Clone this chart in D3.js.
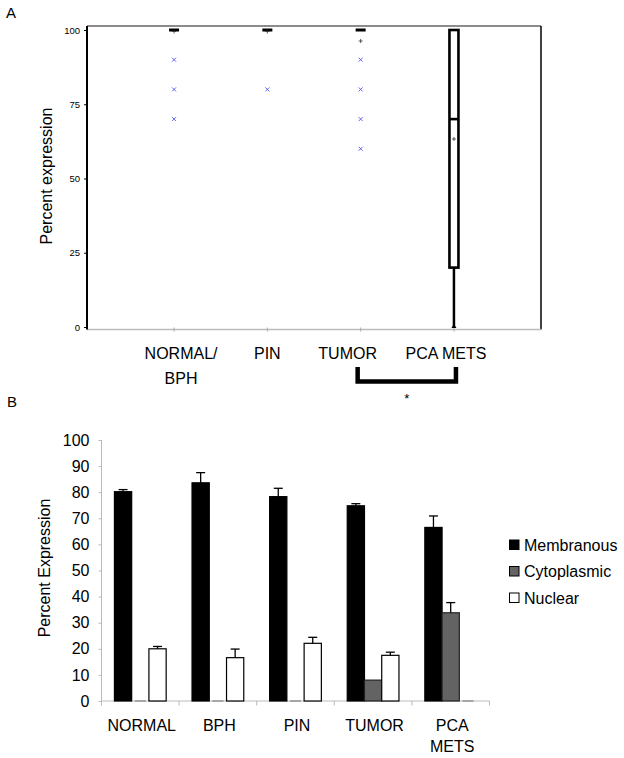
<!DOCTYPE html>
<html>
<head>
<meta charset="utf-8">
<script src="https://cdn.jsdelivr.net/npm/d3@7"></script>
<style>
  html, body { margin: 0; padding: 0; background: #fff; }
  svg { display: block; font-family: "Liberation Sans", Arial, sans-serif; }
</style>
</head>
<body>
<svg id="chart" width="624" height="758"></svg>
<script>
// ---------- Panel A data (box plot) ----------
const boxCategories = ["NORMAL/BPH", "PIN", "TUMOR", "PCA METS"];
const boxLabelLines = [["NORMAL/", "BPH"], ["PIN"], ["TUMOR"], ["PCA METS"]];
const boxMin    = [100, 100, 100, 0];
const boxQ1     = [100, 100, 100, 20];
const boxMedian = [100, 100, 100, 70];
const boxQ3     = [100, 100, 100, 100];
const boxMax    = [100, 100, 100, 100];
const boxMean   = [99.5, 99.5, 96.3, 63.3];
const boxOutliers = [[90, 80, 70], [80], [90, 80, 70, 60], []];
const boxYTicks = [0, 25, 50, 75, 100];

// ---------- Panel B data (grouped bars) ----------
const barCategories = ["NORMAL", "BPH", "PIN", "TUMOR", "PCA METS"];
const barLabelLines = [["NORMAL"], ["BPH"], ["PIN"], ["TUMOR"], ["PCA", "METS"]];
const seriesNames = ["Membranous", "Cytoplasmic", "Nuclear"];
const membranous    = [80.2, 83.6, 78.3, 74.8, 66.5];
const membranousErr = [0.8, 3.9, 3.2, 0.8, 4.4];
const cytoplasmic    = [0, 0, 0, 8.0, 33.8];
const cytoplasmicErr = [0, 0, 0, 0, 3.9];
const nuclear    = [20.0, 16.6, 22.1, 17.5, 0];
const nuclearErr = [0.9, 3.3, 2.3, 1.2, 0];
const barYTicks = [0, 10, 20, 30, 40, 50, 60, 70, 80, 90, 100];

const svg = d3.select("#chart");

// ================= Panel A =================
const gA = svg.append("g");
gA.append("text").attr("x", 6).attr("y", 18).attr("font-size", 15).text("A");

const xA = d3.scalePoint().domain(boxCategories).range([87, 541]).padding(0.933);
const yA = d3.scaleLinear().domain([0, 100]).range([327, 30]);

// frame: top and right borders
gA.append("line").attr("x1", 87).attr("x2", 541).attr("y1", 26).attr("y2", 26)
  .attr("stroke", "#666").attr("stroke-width", 1.3);
gA.append("line").attr("x1", 541).attr("x2", 541).attr("y1", 26).attr("y2", 329.5)
  .attr("stroke", "#000").attr("stroke-width", 1.5);

// bottom axis (gray)
gA.append("line").attr("x1", 87).attr("x2", 541).attr("y1", 329.5).attr("y2", 329.5)
  .attr("stroke", "#bbb").attr("stroke-width", 1.3);
gA.selectAll(".xtickA").data(boxCategories).enter().append("line")
  .attr("x1", d => xA(d)).attr("x2", d => xA(d)).attr("y1", 327.5).attr("y2", 331.5)
  .attr("stroke", "#aaa").attr("stroke-width", 1);

// left axis
const axA = d3.axisLeft(yA).tickValues(boxYTicks).tickSize(3).tickPadding(4);
const gAx = gA.append("g").attr("transform", "translate(87,0)").call(axA);
gAx.select(".domain").attr("d", "M0,26V329.5").attr("stroke", "#000").attr("stroke-width", 2);
gAx.selectAll(".tick line").attr("stroke", "#000");
gAx.selectAll(".tick text").attr("font-size", 9.5).attr("font-family", "Liberation Sans, Arial, sans-serif").attr("fill", "#000");

// y title
gA.append("text").attr("transform", "translate(52,176) rotate(-90)")
  .attr("text-anchor", "middle").attr("font-size", 16).text("Percent expression");

// category labels
const labelShiftA = [7, 0, -13, -8];
boxLabelLines.forEach((lines, i) => {
  lines.forEach((ln, j) => {
    gA.append("text").attr("x", xA(boxCategories[i]) + labelShiftA[i]).attr("y", 359 + j * 24.5)
      .attr("text-anchor", "middle").attr("font-size", 16).text(ln);
  });
});

// boxes
boxCategories.forEach((c, i) => {
  const cx = xA(c);
  const bw = 9;
  // whiskers
  if (boxMin[i] < boxQ1[i]) {
    gA.append("line").attr("x1", cx).attr("x2", cx).attr("y1", yA(boxQ1[i])).attr("y2", yA(boxMin[i]))
      .attr("stroke", "#000").attr("stroke-width", 2.5);
    gA.append("path").attr("d", `M${cx - 2.5},${yA(boxMin[i]) + 1}L${cx},${yA(boxMin[i]) - 3}L${cx + 2.5},${yA(boxMin[i]) + 1}Z`)
      .attr("fill", "#000");
  }
  if (boxQ3[i] > boxQ1[i]) {
    gA.append("rect").attr("x", cx - bw / 2).attr("width", bw)
      .attr("y", yA(boxQ3[i])).attr("height", yA(boxQ1[i]) - yA(boxQ3[i]))
      .attr("fill", "none").attr("stroke", "#000").attr("stroke-width", 2.6);
    gA.append("line").attr("x1", cx - bw / 2).attr("x2", cx + bw / 2)
      .attr("y1", yA(boxMedian[i])).attr("y2", yA(boxMedian[i]))
      .attr("stroke", "#000").attr("stroke-width", 2.6);
  } else {
    gA.append("rect").attr("x", cx - 5).attr("width", 10)
      .attr("y", yA(boxMedian[i]) - 1.5).attr("height", 3).attr("fill", "#000");
  }
  // mean marker
  const my = yA(boxMean[i]);
  gA.append("path").attr("d", `M${cx - 2},${my}H${cx + 2}M${cx},${my - 2}V${my + 2}`)
    .attr("stroke", "#333").attr("stroke-width", 0.8);
  // outliers
  boxOutliers[i].forEach(v => {
    const oy = yA(v);
    gA.append("path").attr("d", `M${cx - 2},${oy - 2}L${cx + 2},${oy + 2}M${cx - 2},${oy + 2}L${cx + 2},${oy - 2}`)
      .attr("stroke", "#5555ee").attr("stroke-width", 0.9);
  });
});

// significance bracket
const bx1 = xA("TUMOR") - 3, bx2 = xA("PCA METS") + 2;
gA.append("path").attr("d", `M${bx1},367V381.5H${bx2}V367`)
  .attr("fill", "none").attr("stroke", "#000").attr("stroke-width", 4.5);
gA.append("text").attr("x", (bx1 + bx2) / 2).attr("y", 403).attr("text-anchor", "middle")
  .attr("font-size", 13).text("*");

// ================= Panel B =================
const gB = svg.append("g");
gB.append("text").attr("x", 7).attr("y", 407).attr("font-size", 15).text("B");

const yB = d3.scaleLinear().domain([0, 100]).range([701, 440]);
const x0 = d3.scaleBand().domain(barCategories).range([101.5, 489.5]).paddingInner(0).paddingOuter(0);
const x1 = d3.scaleBand().domain(seriesNames).range([0, x0.bandwidth()]).paddingInner(0).paddingOuter(0.75);

const seriesVals = [membranous, cytoplasmic, nuclear];
const seriesErrs = [membranousErr, cytoplasmicErr, nuclearErr];
const seriesFill = ["#000", "#636363", "#fff"];

// y axis
const axB = d3.axisLeft(yB).tickValues(barYTicks).tickSize(3).tickPadding(9);
const gBy = gB.append("g").attr("transform", "translate(101.5,0)").call(axB);
gBy.select(".domain").attr("d", "M0,440V701").attr("stroke", "#bbb").attr("stroke-width", 1);
gBy.selectAll(".tick line").attr("stroke", "#bbb");
gBy.selectAll(".tick text").attr("font-size", 16).attr("font-family", "Liberation Sans, Arial, sans-serif").attr("fill", "#000");

// x axis
gB.append("line").attr("x1", 101.5).attr("x2", 489.5).attr("y1", 701).attr("y2", 701)
  .attr("stroke", "#bbb").attr("stroke-width", 1.2);
const bounds = barCategories.map(c => x0(c)).concat([x0(barCategories[barCategories.length - 1]) + x0.bandwidth()]);
gB.selectAll(".xb").data(bounds).enter().append("line")
  .attr("x1", d => d).attr("x2", d => d).attr("y1", 701).attr("y2", 705.5)
  .attr("stroke", "#bbb").attr("stroke-width", 1);

// bars
barCategories.forEach((c, i) => {
  seriesNames.forEach((s, k) => {
    const v = seriesVals[k][i];
    const bx = x0(c) + x1(s);
    const bw = x1.bandwidth();
    if (v > 0) {
      gB.append("rect").attr("x", bx).attr("width", bw)
        .attr("y", yB(v)).attr("height", yB(0) - yB(v))
        .attr("fill", seriesFill[k]).attr("stroke", k === 1 ? "#222" : "#000").attr("stroke-width", 1.2);
      const e = seriesErrs[k][i];
      if (e > 0) {
        const cx = bx + bw / 2;
        gB.append("line").attr("x1", cx).attr("x2", cx).attr("y1", yB(v)).attr("y2", yB(v + e))
          .attr("stroke", "#000").attr("stroke-width", 1.3);
        gB.append("line").attr("x1", cx - 4.5).attr("x2", cx + 4.5).attr("y1", yB(v + e)).attr("y2", yB(v + e))
          .attr("stroke", "#000").attr("stroke-width", 1.3);
      }
    } else {
      gB.append("line").attr("x1", bx + 3).attr("x2", bx + bw - 3).attr("y1", 701).attr("y2", 701)
        .attr("stroke", "#888").attr("stroke-width", 1.3);
    }
  });
});

// y title
gB.append("text").attr("transform", "translate(50,568) rotate(-90)")
  .attr("text-anchor", "middle").attr("font-size", 16).text("Percent Expression");

// category labels
barLabelLines.forEach((lines, i) => {
  const cx = x0(barCategories[i]) + x0.bandwidth() / 2 + 1.5;
  lines.forEach((ln, j) => {
    gB.append("text").attr("x", cx).attr("y", 731 + j * 20.5)
      .attr("text-anchor", "middle").attr("font-size", 16).text(ln);
  });
});

// legend
seriesNames.forEach((s, k) => {
  const ly = 545 + k * 26.5;
  gB.append("rect").attr("x", 509.5).attr("y", ly - 5).attr("width", 9.5).attr("height", 9.5)
    .attr("fill", seriesFill[k]).attr("stroke", "#000").attr("stroke-width", 1);
  gB.append("text").attr("x", 524).attr("y", ly + 5.5).attr("font-size", 16).text(s);
});
</script>
</body>
</html>
